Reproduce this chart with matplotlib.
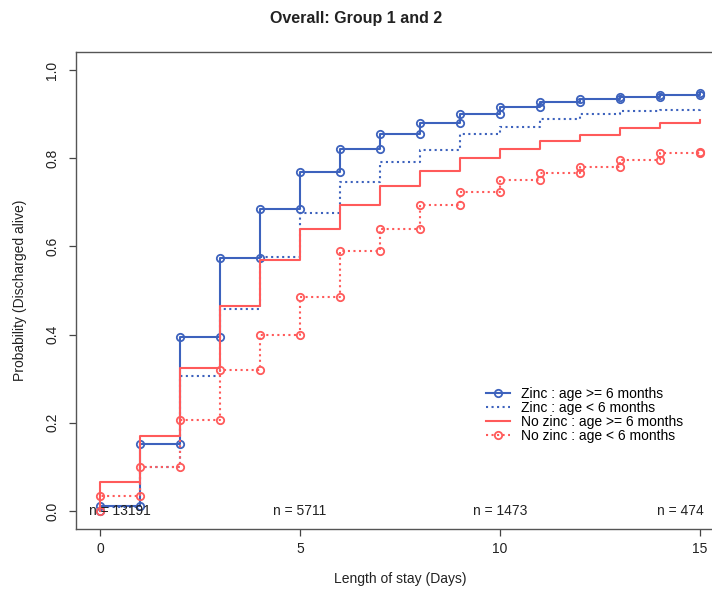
import numpy as np
import matplotlib
matplotlib.use("Agg")
import matplotlib.pyplot as plt

plt.rcParams['font.family'] = ['Liberation Sans', 'DejaVu Sans']

# step values for each day 0..14, last entry is the value reached at day 15
days = np.arange(16)
zinc_ge6 = [0.012, 0.152, 0.394, 0.573, 0.685, 0.768, 0.821, 0.856, 0.879,
            0.900, 0.917, 0.928, 0.934, 0.939, 0.943, 0.947]
zinc_lt6 = [0.008, 0.100, 0.307, 0.459, 0.577, 0.675, 0.745, 0.791, 0.818,
            0.855, 0.870, 0.888, 0.900, 0.908, 0.909, 0.913]
nozinc_ge6 = [0.065, 0.169, 0.324, 0.465, 0.569, 0.640, 0.695, 0.737, 0.771,
              0.800, 0.820, 0.839, 0.853, 0.868, 0.879, 0.886]
nozinc_lt6 = [0.033, 0.100, 0.207, 0.320, 0.398, 0.485, 0.589, 0.639, 0.693,
              0.724, 0.750, 0.767, 0.781, 0.797, 0.812, 0.815]

labels = ["Zinc : age >= 6 months", "Zinc : age < 6 months",
          "No zinc : age >= 6 months", "No zinc : age < 6 months"]
n_pos = [0.5, 5, 10, 14.5]
n_text = ["n = 13191", "n = 5711", "n = 1473", "n = 474"]

blue = "#3d62bd"
red = "#ff5a5a"


def step_xy(vals):
    # vertices of the step curve starting at (0, 0)
    xs = [0.0]
    ys = [0.0]
    for k, v in enumerate(vals[:-1]):
        xs += [days[k], days[k + 1]]
        ys += [v, v]
    xs.append(days[-1])
    ys.append(vals[-1])
    return np.array(xs), np.array(ys)


fig = plt.figure(figsize=(7.12, 5.92), dpi=100)
ax = fig.add_axes([76 / 712, 63.4 / 592, 648 / 712, 476.2 / 592])

x, y = step_xy(zinc_ge6)
ax.plot(x, y, color=blue, lw=1.5, ls='-', marker='o', ms=5.3,
        mfc='none', mec=blue, mew=1.3, label=labels[0])
x, y = step_xy(zinc_lt6)
ax.plot(x, y, color=blue, lw=1.5, ls=':', label=labels[1])
x, y = step_xy(nozinc_ge6)
ax.plot(x, y, color=red, lw=1.5, ls='-', label=labels[2])
x, y = step_xy(nozinc_lt6)
ax.plot(x, y, color=red, lw=1.5, ls=':', marker='o', ms=5.3,
        mfc='none', mec=red, mew=1.3, label=labels[3])

for xp, t in zip(n_pos, n_text):
    ax.text(xp, 0, t, ha='center', va='center', fontsize=10, color='#222222')

ax.set_xlim(-0.6, 15.6)
ax.set_ylim(-0.04, 1.04)
ax.set_xticks([0, 5, 10, 15])
ax.set_yticks([0.0, 0.2, 0.4, 0.6, 0.8, 1.0])
ax.set_yticklabels(["0.0", "0.2", "0.4", "0.6", "0.8", "1.0"],
                   rotation=90, va='center')
ax.tick_params(axis='both', length=5, width=0.9, color='#444444',
               labelsize=10, labelcolor='#222222')
ax.tick_params(axis='x', pad=5)
ax.tick_params(axis='y', pad=7)
for s in ax.spines.values():
    s.set_color('#555555')
    s.set_linewidth(1.0)

ax.set_xlabel("Length of stay (Days)", fontsize=10, color='#222222', labelpad=11)
ax.set_ylabel("Probability (Discharged alive)", fontsize=10, color='#222222',
              labelpad=13)
fig.text(0.5, 1 - 18 / 592, "Overall: Group 1 and 2", ha='center', va='center',
         fontsize=11.5, fontweight='bold', color='#222222')

ax.legend(loc='upper left', bbox_to_anchor=(476 / 712, 1 - 377 / 592),
          bbox_transform=fig.transFigure, frameon=False, fontsize=10,
          handlelength=1.75, handletextpad=0.8, labelspacing=0.0,
          borderpad=0.2)

fig.savefig("out.png", dpi=100)
